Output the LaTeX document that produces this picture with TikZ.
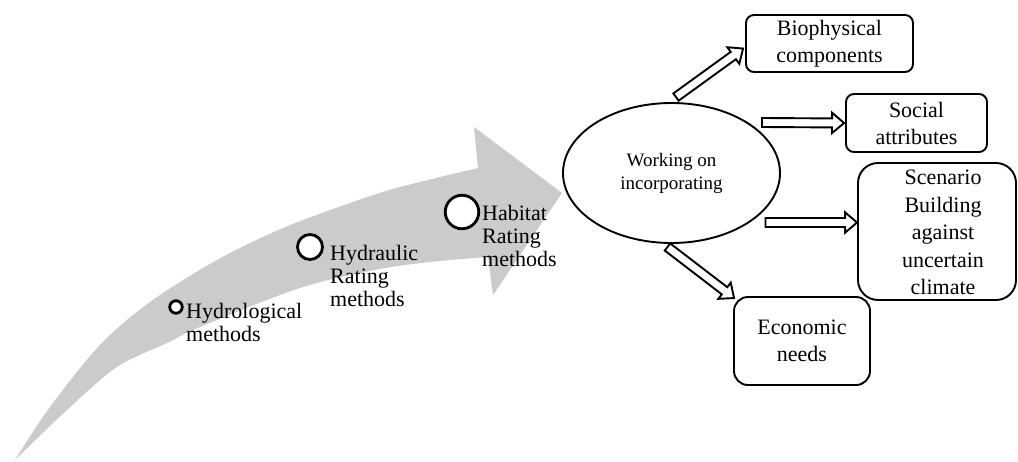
\documentclass[tikz,border=0pt]{standalone}
\usepackage{fontspec}
\setmainfont{Liberation Serif}
\usetikzlibrary{shapes.geometric,calc}

\definecolor{bandgray}{RGB}{203,203,203}

% hollow block arrow from coordinate #1 to coordinate #2
\newcommand{\fatarrow}[2]{%
  \coordinate (fah) at ($(#2)!12pt!(#1)$);
  \draw[fatline] ($(#1)!4.5pt!90:(#2)$) -- ($(fah)!4.5pt!90:(#2)$)
    -- ($(fah)!10.2pt!90:(#2)$) -- (#2) -- ($(fah)!10.2pt!-90:(#2)$)
    -- ($(fah)!4.5pt!-90:(#2)$) -- ($(#1)!4.5pt!-90:(#2)$) -- cycle;}

\tikzset{
  fatline/.style={draw=black, fill=white, line width=1.9pt, line join=miter},
  ring/.style={circle, draw=black, fill=white, line width=2.8pt, inner sep=0pt},
  stage/.style={anchor=north west, inner sep=0pt, align=left,
    font=\fontsize{22}{23}\selectfont},
  box/.style={draw=black, line width=1.9pt, align=center, inner sep=0pt,
    font=\fontsize{22}{27}\selectfont},
}

\begin{document}
\begin{tikzpicture}[x=1pt, y=-1pt]
\useasboundingbox (0,0) rectangle (1018,461);

% curved grey progress arrow
\fill[bandgray] plot[smooth, tension=0.55] coordinates {(15,460) (50,407) (100,345) (150,302) (217,260) (283,228) (350,203) (400,187) (478,168)}
  -- (474,127) -- (562,193) -- (493,295)
  -- plot[smooth, tension=0.55] coordinates {(488,257) (440,261) (380,269) (300,288) (200,327) (167,343) (117,367) (67,410) (15,460)} -- cycle;

% stages along the arrow
\node[ring, minimum size=12.5pt] (hyd) at (176,307) {};
\node[stage] (hydt) at (186,303) {Hydrological\\methods};
\node[ring, minimum size=25pt] (hyr) at (310,247) {};
\node[stage] (hyrt) at (330,245) {Hydraulic\\Rating\\methods};
\node[ring, minimum size=33.5pt] (hab) at (462,212) {};
\node[stage] (habt) at (482,205) {Habitat\\Rating\\methods};

% central ellipse
\node[ellipse, draw=black, fill=white, line width=1.9pt, minimum width=217pt,
  minimum height=140pt, inner sep=0pt, align=center,
  font=\fontsize{19}{23}\selectfont] (ell) at (671.5,173) {Working on\\incorporating};

% outcome boxes
\node[box, rounded corners=8pt, minimum width=167pt, minimum height=57pt] (bio)
  at (829.5,43.5) {Biophysical\\components};
\node[box, rounded corners=8pt, minimum width=141pt, minimum height=58pt] (soc)
  at (916.5,123) {Social\\attributes};
\node[box, rounded corners=20pt, minimum width=158pt, minimum height=137pt] (scen)
  at (937,231.5) {};
\node[align=center, inner sep=0pt, font=\fontsize{22}{27.5}\selectfont] (scent)
  at (943,232.5) {Scenario\\Building\\against\\uncertain\\climate};
\node[box, rounded corners=14pt, minimum width=136pt, minimum height=88pt] (eco)
  at (802,341) {Economic\\needs};

% arrow end points
\coordinate (a1s) at ($(ell.north)+(4.5,-5)$);
\coordinate (a1e) at ($(bio.west)+(-2,5)$);
\coordinate (a2s) at ($(ell.center)+(90.5,-50.5)$);
\coordinate (a2e) at ($(soc.west)+(-1,0)$);
\coordinate (a3s) at ($(ell.center)+(94,49.5)$);
\coordinate (a3e) at ($(scen.west)+(0,-9)$);
\coordinate (a4s) at ($(ell.center)+(-4,74)$);
\coordinate (a4e) at ($(eco.north west)+(1,2)$);

\fatarrow{a1s}{a1e}
\fatarrow{a2s}{a2e}
\fatarrow{a3s}{a3e}
\fatarrow{a4s}{a4e}
\end{tikzpicture}
\end{document}
